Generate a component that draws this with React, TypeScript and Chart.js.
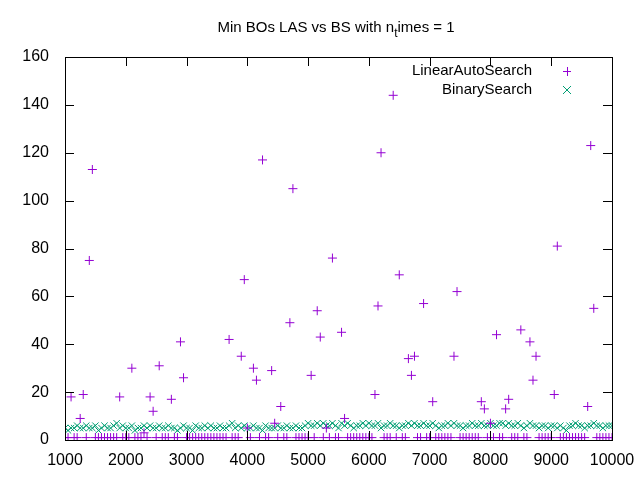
import Chart from 'chart.js/auto';
import { useEffect, useRef } from 'react';

// sampled sizes: 1000..10000 every 50
const sizes: number[] = Array.from({ length: 181 }, (_, i) => 1000 + i * 50);

// LinearAutoSearch is 1 everywhere except these points
const lasOutliers: [number, number][] = [
    [1100, 18], [1250, 9], [1300, 19], [1400, 75], [1450, 113], [1900, 18], [2100, 30],
    [2300, 3], [2400, 18], [2450, 12], [2550, 31], [2750, 17], [2900, 41], [2950, 26],
    [3700, 42], [3900, 35], [3950, 67], [4000, 5], [4100, 30], [4150, 25], [4250, 117],
    [4400, 29], [4450, 7], [4550, 14], [4700, 49], [4750, 105], [5050, 27], [5150, 54],
    [5200, 43], [5300, 5], [5400, 76], [5550, 45], [5600, 9], [6100, 19], [6150, 56],
    [6200, 120], [6400, 144], [6500, 69], [6650, 34], [6700, 27], [6750, 35], [6900, 57],
    [7050, 16], [7400, 35], [7450, 62], [7850, 16], [7900, 13], [8000, 7], [8100, 44],
    [8250, 13], [8300, 17], [8500, 46], [8650, 41], [8700, 25], [8750, 35], [9050, 19],
    [9100, 81], [9600, 14], [9650, 123], [9700, 55],
];

const bsValues: number[] = [
    5, 4, 5, 5, 6, 5, 5, 6, 5, 5, 6, 4, 5, 6, 5, 5, 6, 7, 5, 6,
    5, 5, 6, 4, 5, 5, 6, 5, 6, 5, 5, 6, 5, 5, 6, 5, 5, 4, 5, 6,
    5, 5, 4, 6, 5, 5, 6, 5, 6, 5, 5, 6, 5, 5, 6, 7, 5, 6, 5, 6,
    5, 5, 6, 5, 5, 4, 6, 5, 5, 5, 6, 5, 5, 6, 5, 5, 6, 5, 5, 6,
    7, 6, 6, 7, 6, 7, 6, 6, 7, 6, 5, 7, 6, 7, 6, 5, 6, 6, 7, 6,
    7, 6, 6, 7, 5, 6, 6, 7, 6, 6, 5, 6, 6, 7, 6, 7, 6, 6, 7, 6,
    6, 7, 6, 5, 6, 6, 7, 6, 7, 6, 6, 5, 6, 6, 7, 6, 6, 7, 6, 6,
    7, 6, 6, 7, 7, 6, 7, 6, 6, 7, 6, 5, 6, 7, 6, 6, 5, 6, 6, 5,
    6, 6, 5, 6, 5, 4, 6, 6, 7, 6, 6, 5, 6, 6, 7, 6, 6, 5, 6, 6, 6,
];

const lasValues: number[] = sizes.map((s) => {
    const hit = lasOutliers.find((o) => o[0] === s);
    return hit ? hit[1] : 1;
});

const xTicks = [1000, 2000, 3000, 4000, 5000, 6000, 7000, 8000, 9000, 10000];
const yTicks = [0, 20, 40, 60, 80, 100, 120, 140, 160];

const PURPLE = '#9400d3';
const GREEN = '#009e73';
const FONT = '"Liberation Sans", Arial, sans-serif';

const gnuplotFrame = {
    id: 'gnuplotFrame',
    afterDraw(chart: any) {
        const { ctx, chartArea: a, scales } = chart;
        ctx.save();
        ctx.strokeStyle = '#000';
        ctx.lineWidth = 1;
        ctx.strokeRect(a.left + 0.5, a.top + 0.5, a.right - a.left, a.bottom - a.top);
        ctx.beginPath();
        yTicks.forEach((v) => {
            const y = Math.round(scales.y.getPixelForValue(v)) + 0.5;
            ctx.moveTo(a.left, y); ctx.lineTo(a.left + 9, y);
            ctx.moveTo(a.right, y); ctx.lineTo(a.right - 9, y);
        });
        xTicks.forEach((v) => {
            const x = Math.round(scales.x.getPixelForValue(v)) + 0.5;
            ctx.moveTo(x, a.bottom); ctx.lineTo(x, a.bottom - 9);
            ctx.moveTo(x, a.top); ctx.lineTo(x, a.top + 9);
        });
        ctx.stroke();

        // title with subscript
        ctx.fillStyle = '#000';
        ctx.textBaseline = 'alphabetic';
        const p1 = 'Min BOs LAS vs BS with n';
        const p3 = 'imes = 1';
        ctx.font = `15px ${FONT}`;
        const w1 = ctx.measureText(p1).width;
        const w3 = ctx.measureText(p3).width;
        ctx.font = `12px ${FONT}`;
        const w2 = ctx.measureText('t').width;
        let x = 336 - (w1 + w2 + w3) / 2;
        ctx.font = `15px ${FONT}`;
        ctx.fillText(p1, x, 32); x += w1;
        ctx.font = `12px ${FONT}`;
        ctx.fillText('t', x, 37); x += w2;
        ctx.font = `15px ${FONT}`;
        ctx.fillText(p3, x, 32);

        // legend: text right-aligned, marker to the right
        ctx.textAlign = 'right';
        ctx.textBaseline = 'middle';
        ctx.fillText('LinearAutoSearch', 532, 71);
        ctx.fillText('BinarySearch', 532, 90);
        ctx.lineWidth = 1;
        ctx.strokeStyle = PURPLE;
        ctx.beginPath();
        ctx.moveTo(563, 71.5); ctx.lineTo(571, 71.5);
        ctx.moveTo(567.5, 67); ctx.lineTo(567.5, 76);
        ctx.stroke();
        ctx.strokeStyle = GREEN;
        ctx.beginPath();
        ctx.moveTo(563, 86); ctx.lineTo(571, 94);
        ctx.moveTo(571, 86); ctx.lineTo(563, 94);
        ctx.stroke();
        ctx.restore();
    },
};

const App = () => {
    const chartRef = useRef<HTMLCanvasElement>(null);

    useEffect(() => {
        document.body.style.margin = '0';
        if (!chartRef.current) return;
        const chart = new Chart(chartRef.current, {
            type: 'scatter',
            data: {
                datasets: [
                    {
                        label: 'LinearAutoSearch',
                        data: sizes.map((s, i) => ({ x: s, y: lasValues[i] })),
                        pointStyle: 'cross',
                        pointRadius: 4.5,
                        borderColor: PURPLE,
                        backgroundColor: PURPLE,
                        borderWidth: 1,
                    },
                    {
                        label: 'BinarySearch',
                        data: sizes.map((s, i) => ({ x: s, y: bsValues[i] })),
                        pointStyle: 'crossRot',
                        pointRadius: 4.5,
                        borderColor: GREEN,
                        backgroundColor: GREEN,
                        borderWidth: 1,
                    },
                ],
            },
            options: {
                animation: false,
                responsive: false,
                layout: { padding: { top: 57, right: 28, left: 0, bottom: 0 } },
                plugins: { legend: { display: false }, tooltip: { enabled: false }, title: { display: false } },
                scales: {
                    x: {
                        type: 'linear',
                        min: 1000,
                        max: 10000,
                        afterFit: (s: any) => { s.height = 40; },
                        afterBuildTicks: (s: any) => { s.ticks = xTicks.map((v) => ({ value: v })); },
                        grid: { display: false },
                        border: { display: false },
                        ticks: {
                            color: '#000',
                            font: { family: FONT, size: 16 },
                            maxRotation: 0,
                            padding: 3,
                            callback: (v: any) => String(v),
                        },
                    },
                    y: {
                        min: 0,
                        max: 160,
                        afterFit: (s: any) => { s.width = 65; },
                        afterBuildTicks: (s: any) => { s.ticks = yTicks.map((v) => ({ value: v })); },
                        grid: { display: false },
                        border: { display: false },
                        ticks: { color: '#000', font: { family: FONT, size: 16 }, padding: 8 },
                    },
                },
            },
            plugins: [gnuplotFrame],
        });
        return () => chart.destroy();
    }, []);

    return <canvas ref={chartRef} width={640} height={480} style={{ display: 'block' }}></canvas>;
};

export default App;
